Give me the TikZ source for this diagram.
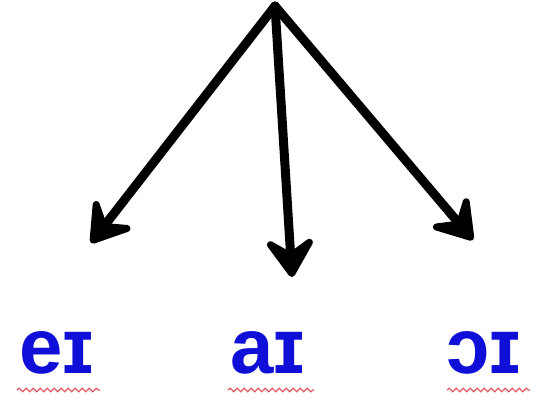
\documentclass[tikz,border=0pt]{standalone}
\usepackage{fontspec}
\newfontfamily\ipafont{Liberation Sans}
\usetikzlibrary{arrows.meta,decorations.pathmorphing}
\definecolor{ipablue}{RGB}{15,15,215}
\definecolor{wavered}{RGB}{225,90,100}
\tikzset{
  arr/.style={line width=9pt, line cap=round, -{Stealth[length=48pt,width=62pt,inset=20pt,round]}},
  ipa/.style={text=ipablue, font=\ipafont\bfseries\fontsize{78}{86}\selectfont, anchor=base, inner sep=0pt},
  wave/.style={draw=wavered, line width=1.2pt, decorate, decoration={snake, amplitude=1.8pt, segment length=7pt}}
}
\begin{document}
\begin{tikzpicture}[x=1pt,y=-1pt]
\useasboundingbox (0,0) rectangle (538,401);
\coordinate (top) at (275,6);
\coordinate (tl) at (91,243);
\coordinate (tm) at (292,277);
\coordinate (tr) at (473,240);
\draw[arr] (top) -- (tl);
\draw[arr] (top) -- (tm);
\draw[arr] (top) -- (tr);
\node[ipa] (ei) at (57,373) {eɪ};
\node[ipa] (ai) at (268,373) {aɪ};
\node[ipa] (oi) at (484,373) {ɔɪ};
\draw[wave] (17,390) -- (100,390);
\draw[wave] (228,390) -- (314,390);
\draw[wave] (447,390) -- (530,390);
\end{tikzpicture}
\end{document}
